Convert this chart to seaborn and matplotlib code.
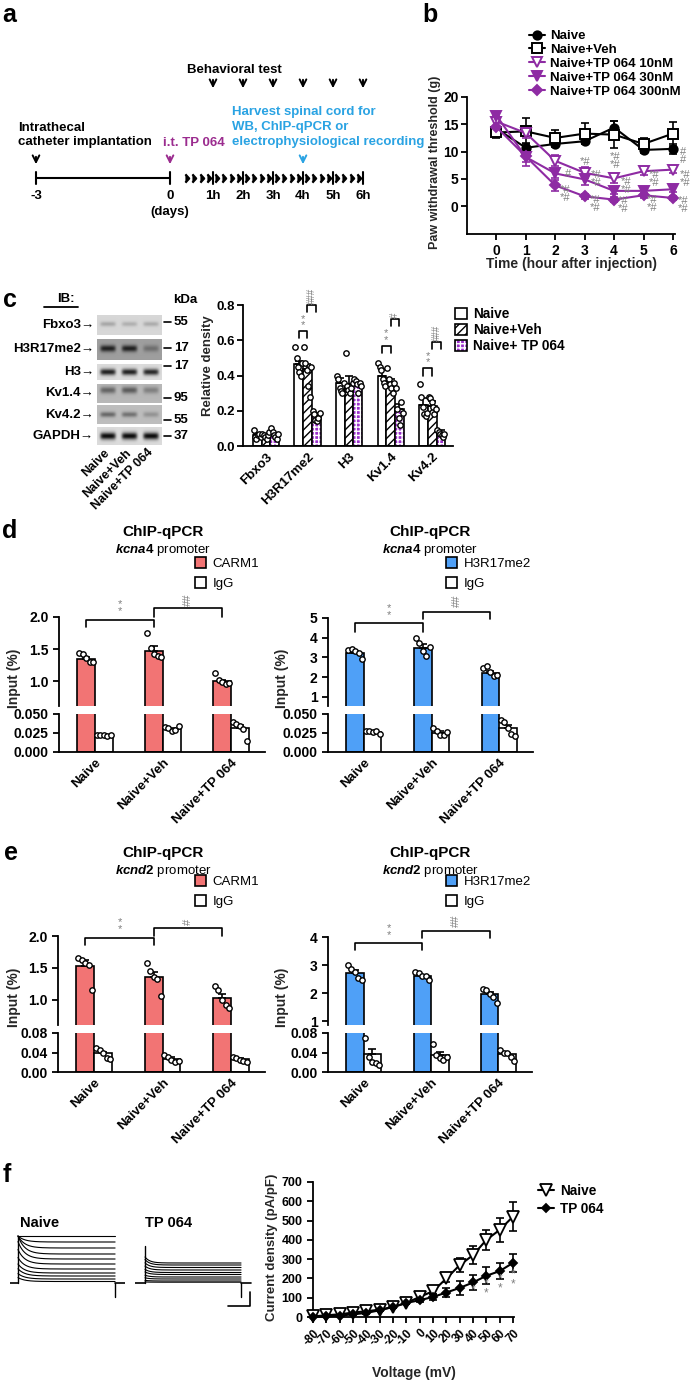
import numpy as np
import pandas as pd
import seaborn as sns
import matplotlib
matplotlib.use("Agg")
import matplotlib.pyplot as plt
from matplotlib.path import Path
from matplotlib.patches import Rectangle, Patch
from matplotlib.lines import Line2D

# ======================= DATA =======================
# (a) schematic timeline
day_marks = [-3, 0]
hour_marks = [1, 2, 3, 4, 5, 6]

# (b) paw withdrawal threshold (g)
b_time = [0, 1, 2, 3, 4, 5, 6]
b_naive = [14.2, 10.7, 11.4, 11.9, 14.4, 10.3, 10.5]
b_naive_sem = [1.5, 0.8, 0.6, 0.6, 1.2, 0.6, 0.9]
b_veh = [13.5, 13.7, 12.5, 13.3, 13.1, 11.4, 13.3]
b_veh_sem = [1.0, 2.4, 1.4, 2.0, 2.5, 1.0, 2.2]
b_10nm = [15.5, 13.4, 8.3, 6.1, 5.1, 6.4, 6.7]
b_10nm_sem = [1.0, 1.0, 1.0, 1.0, 0.8, 0.6, 0.6]
b_30nm = [16.6, 9.0, 6.0, 4.9, 2.8, 2.8, 3.1]
b_30nm_sem = [0.6, 1.0, 0.8, 1.0, 0.5, 0.5, 0.5]
b_300nm = [14.5, 9.1, 3.8, 1.8, 1.2, 2.0, 1.5]
b_300nm_sem = [1.6, 1.8, 1.0, 0.5, 0.4, 0.5, 0.4]
b_labels = ["Naive", "Naive+Veh", "Naive+TP 064 10nM", "Naive+TP 064 30nM", "Naive+TP 064 300nM"]

# (c) western blot band darkness (0..1) per lane
blot_rows = ["Fbxo3", "H3R17me2", "H3", "Kv1.4", "Kv4.2", "GAPDH"]
blot_kda = ["55", "17", "17", "95", "55", "37"]
blot_bands = [[0.22, 0.18, 0.20], [0.80, 0.80, 0.30], [0.85, 0.85, 0.82],
              [0.45, 0.50, 0.30], [0.45, 0.40, 0.22], [0.95, 0.95, 0.95]]
blot_bg = [0.84, 0.62, 0.86, 0.72, 0.74, 0.86]
blot_lanes = ["Naive", "Naive+Veh", "Naive+TP 064"]

# (c) relative density
c_proteins = ["Fbxo3", "H3R17me2", "H3", "Kv1.4", "Kv4.2"]
c_groups = ["Naive", "Naive+Veh", "Naive+ TP 064"]
c_naive = [0.06, 0.465, 0.355, 0.40, 0.23]
c_veh = [0.06, 0.435, 0.35, 0.36, 0.225]
c_tp = [0.065, 0.17, 0.345, 0.21, 0.075]
c_naive_sem = [0.01, 0.02, 0.03, 0.035, 0.04]
c_veh_sem = [0.01, 0.03, 0.045, 0.02, 0.03]
c_tp_sem = [0.01, 0.02, 0.02, 0.03, 0.015]
c_naive_pts = [[0.09, 0.05, 0.04, 0.06, 0.07, 0.05], [0.56, 0.50, 0.45, 0.42, 0.40, 0.47],
               [0.40, 0.38, 0.33, 0.31, 0.30, 0.36], [0.47, 0.45, 0.43, 0.38, 0.36, 0.34],
               [0.35, 0.28, 0.22, 0.18, 0.17, 0.19]]
c_veh_pts = [[0.07, 0.06, 0.05, 0.04, 0.06, 0.08], [0.56, 0.47, 0.43, 0.34, 0.28, 0.45],
             [0.53, 0.34, 0.32, 0.30, 0.33, 0.36], [0.44, 0.38, 0.35, 0.33, 0.30, 0.36],
             [0.28, 0.27, 0.25, 0.22, 0.18, 0.21]]
c_tp_pts = [[0.10, 0.08, 0.06, 0.05, 0.04, 0.07], [0.20, 0.18, 0.15, 0.14, 0.16, 0.19],
            [0.38, 0.37, 0.35, 0.30, 0.36, 0.34], [0.33, 0.21, 0.16, 0.12, 0.25, 0.19],
            [0.09, 0.08, 0.07, 0.06, 0.05, 0.07]]

# (d, e) ChIP-qPCR input (%)
chip_groups = ["Naive", "Naive+Veh", "Naive+TP 064"]
d_carm1 = [1.35, 1.48, 1.00]
d_carm1_sem = [0.03, 0.07, 0.03]
d_carm1_pts = [[1.44, 1.42, 1.36, 1.30, 1.31], [1.75, 1.52, 1.42, 1.40, 1.38], [1.13, 1.02, 0.99, 0.96, 0.97]]
d_igg1 = [0.022, 0.030, 0.031]
d_igg1_sem = [0.001, 0.002, 0.004]
d_igg1_pts = [[0.022, 0.023, 0.022, 0.021, 0.022], [0.033, 0.031, 0.028, 0.029, 0.034], [0.040, 0.037, 0.034, 0.030, 0.015]]
d_h3 = [3.22, 3.48, 2.22]
d_h3_sem = [0.10, 0.20, 0.10]
d_h3_pts = [[3.35, 3.40, 3.30, 3.20, 2.90], [4.00, 3.75, 3.30, 3.05, 3.55], [2.45, 2.55, 2.25, 2.05, 2.10]]
d_igg2 = [0.026, 0.025, 0.032]
d_igg2_sem = [0.001, 0.002, 0.004]
d_igg2_pts = [[0.028, 0.027, 0.026, 0.028, 0.024], [0.031, 0.027, 0.022, 0.022, 0.026], [0.042, 0.039, 0.031, 0.024, 0.021]]

e_carm1 = [1.53, 1.35, 1.03]
e_carm1_sem = [0.09, 0.08, 0.06]
e_carm1_pts = [[1.65, 1.62, 1.58, 1.55, 1.15], [1.57, 1.45, 1.35, 1.32, 1.05], [1.21, 1.15, 1.00, 0.92, 0.86]]
e_igg1 = [0.038, 0.027, 0.026]
e_igg1_sem = [0.004, 0.003, 0.002]
e_igg1_pts = [[0.050, 0.046, 0.040, 0.028, 0.027], [0.035, 0.031, 0.025, 0.020, 0.022], [0.030, 0.028, 0.025, 0.022, 0.021]]
e_h3 = [2.72, 2.62, 1.95]
e_h3_sem = [0.12, 0.04, 0.08]
e_h3_pts = [[3.00, 2.85, 2.75, 2.55, 2.45], [2.75, 2.70, 2.62, 2.60, 2.48], [2.15, 2.10, 1.95, 1.85, 1.65]]
e_igg2 = [0.036, 0.034, 0.036]
e_igg2_sem = [0.012, 0.007, 0.004]
e_igg2_pts = [[0.070, 0.030, 0.020, 0.018, 0.015], [0.058, 0.035, 0.028, 0.025, 0.030], [0.045, 0.040, 0.038, 0.030, 0.022]]

# (f) traces (steady amplitudes, arbitrary units) and I-V curve
naive_sweeps = [4.7, 4.1, 3.5, 2.9, 2.4, 1.9, 1.4, 1.0, 0.7, 0.4, 0.15]
tp_sweeps = [2.0, 1.8, 1.55, 1.3, 1.05, 0.85, 0.6, 0.4, 0.2, 0.08]
f_volt = [-80, -70, -60, -50, -40, -30, -20, -10, 0, 10, 20, 30, 40, 50, 60, 70]
f_naive = [3, 9, 14, 23, 30, 38, 52, 73, 104, 134, 200, 269, 321, 400, 452, 521]
f_naive_sem = [2, 2, 3, 3, 4, 4, 5, 6, 10, 15, 20, 35, 45, 53, 62, 73]
f_tp = [0, 3, 7, 14, 21, 35, 52, 73, 87, 104, 127, 151, 179, 214, 238, 281]
f_tp_sem = [2, 2, 3, 3, 4, 4, 5, 6, 8, 15, 25, 35, 37, 45, 40, 48]

# ======================= STYLE =======================
sns.set_theme(style="ticks")
plt.rcParams["font.family"] = ["Liberation Sans", "DejaVu Sans"]
plt.rcParams.update({
    "font.weight": "bold", "axes.labelweight": "bold",
    "axes.linewidth": 1.3, "axes.edgecolor": "black", "text.color": "black",
    "xtick.color": "black", "ytick.color": "black",
    "xtick.major.width": 1.3, "ytick.major.width": 1.3,
    "xtick.major.size": 4, "ytick.major.size": 4,
    "xtick.labelsize": 10, "ytick.labelsize": 10,
    "hatch.linewidth": 1.0,
    "mathtext.fontset": "custom", "mathtext.it": "Liberation Sans:italic",
    "mathtext.rm": "Liberation Sans",
})

W, H = 697, 1381
fig = plt.figure(figsize=(W / 100, H / 100), dpi=100)
PURPLE = "#8E2BA3"
GRAY = "#808080"
RED = "#F27474"
BLUE = "#4FA0F7"


def px_ax(l, t, r, b):
    return fig.add_axes([l / W, 1 - b / H, (r - l) / W, (b - t) / H])


def ftxt(x, y, s, **kw):
    fig.text(x / W, 1 - y / H, s, **kw)


def set_ylab(ax, text, x_px, y_px, size=10):
    ax.set_ylabel(text, fontsize=size, fontweight="bold")
    pos = ax.get_position()
    ax.yaxis.set_label_coords((x_px / W - pos.x0) / pos.width, ((1 - y_px / H) - pos.y0) / pos.height)


def bracket(ax, x1, x2, y, drop, text, ty, size=8, rot=0):
    ax.plot([x1, x1, x2, x2], [y - drop, y, y, y - drop], color="black", lw=1.2, clip_on=False)
    ax.text((x1 + x2) / 2, ty, text, ha="center", va="bottom", color=GRAY, fontsize=size,
            linespacing=0.6, rotation=rot, clip_on=False, fontweight="normal")


def draw_bars(ax, cats, groups, means, sems, pts, width, colors, hatches=None, hatch_ec=None):
    rows = []
    for g, m in zip(groups, means):
        for c, v in zip(cats, m):
            rows.append((c, g, v))
    df = pd.DataFrame(rows, columns=["cat", "grp", "val"])
    sns.barplot(data=df, x="cat", y="val", hue="grp", order=cats, hue_order=groups,
                palette=colors, width=width, saturation=1, errorbar=None, legend=False,
                edgecolor="black", linewidth=1.2, ax=ax)
    n = len(groups)
    bw = width / n
    if hatches:
        for p in list(ax.patches):
            cx = p.get_x() + p.get_width() / 2
            j = int(round(cx))
            i = int(round((cx - j + width / 2) / bw - 0.5))
            if hatches[i]:
                p.set_hatch(hatches[i])
                p.set_edgecolor(hatch_ec[i])
                if hatch_ec[i] != "black":
                    p.set_linewidth(0)
                    ax.add_patch(Rectangle(p.get_xy(), p.get_width(), p.get_height(), fill=False,
                                           ec="black", lw=1.2, zorder=p.get_zorder() + 0.1))
    for i in range(n):
        xs = np.arange(len(cats)) - width / 2 + (i + 0.5) * bw
        ax.errorbar(xs, means[i], yerr=[np.zeros(len(cats)), sems[i]], fmt="none", ecolor="black",
                    elinewidth=1.2, capsize=3, capthick=1.2, zorder=3)
        for j in range(len(cats)):
            p = np.asarray(pts[i][j])
            k = len(p)
            offs = (np.arange(k) - (k - 1) / 2) / max(k - 1, 1) * bw * 0.8
            ax.scatter(xs[j] + offs, p, s=15, facecolor="white", edgecolor="black",
                       linewidth=1.0, zorder=4)
    ax.set_xlabel("")
    ax.set_ylabel("")


# ======================= PANEL LABELS =======================
for lab, (x, y) in {"a": (9, 15), "b": (430, 15), "c": (10, 300), "d": (10, 531),
                    "e": (11, 853), "f": (7, 1175)}.items():
    ftxt(x, y, lab, fontsize=18, fontweight="bold", ha="center", va="center")

# ======================= (a) =======================
ax_a = px_ax(0, 0, 395, 230)
ax_a.set_xlim(0, 395)
ax_a.set_ylim(230, 0)
ax_a.axis("off")


def day_x(d):
    return 170 + d * 44.67


def hour_x(h):
    return 183 + h * 30


TY = 178
ax_a.plot([day_x(day_marks[0]), day_x(day_marks[-1])], [TY, TY], color="black", lw=1.5)
for d in day_marks:
    ax_a.plot([day_x(d)] * 2, [TY - 6, TY + 6], color="black", lw=1.5)
    ax_a.text(day_x(d), 196, str(d), ha="center", va="center", fontsize=9.5)
ax_a.text(day_x(0), 212, "(days)", ha="center", va="center", fontsize=9.5)
chev = Path([(-0.5, 1), (0.4, 0), (-0.5, -1)], [Path.MOVETO, Path.LINETO, Path.LINETO])
for h in hour_marks:
    cx = [hour_x(h - 1) + 4 + k * 7.3 for k in range(4)]
    ax_a.plot(cx, [TY] * 4, ls="none", marker=chev, ms=6, mew=1.6, color="black")
    ax_a.plot([hour_x(h)] * 2, [TY - 6, TY + 6], color="black", lw=1.5)
    ax_a.text(hour_x(h), 196, f"{h}h", ha="center", va="center", fontsize=9.5)
    ax_a.annotate("", xy=(hour_x(h), 91), xytext=(hour_x(h), 77),
                  arrowprops=dict(arrowstyle="->", lw=1.4, color="black"))
ax_a.text(187, 70, "Behavioral test", ha="left", va="center", fontsize=9.5)
ax_a.text(18, 135, "Intrathecal\ncatheter implantation", ha="left", va="center", fontsize=9.5,
          linespacing=1.3)
ax_a.annotate("", xy=(day_x(-3), 167), xytext=(day_x(-3), 154),
              arrowprops=dict(arrowstyle="->", lw=1.4, color="black"))
ax_a.text(163, 143, "i.t. TP 064", ha="left", va="center", fontsize=9.5, color="#9B2C8F")
ax_a.annotate("", xy=(day_x(0), 167), xytext=(day_x(0), 154),
              arrowprops=dict(arrowstyle="->", lw=1.4, color="#9B2C8F"))
ax_a.text(232, 127, "Harvest spinal cord for\nWB, ChIP-qPCR or\nelectrophysiological recording",
          ha="left", va="center", fontsize=9.5, color="#2AA3E3", linespacing=1.3)
ax_a.annotate("", xy=(hour_x(4), 167), xytext=(hour_x(4), 154),
              arrowprops=dict(arrowstyle="->", lw=1.4, color="#2AA3E3"))

# ======================= (b) =======================
ax_b = px_ax(467, 97, 675, 234)
series_b = [
    (b_naive, b_naive_sem, "black", "o", "black", 6),
    (b_veh, b_veh_sem, "black", "s", "white", 7),
    (b_10nm, b_10nm_sem, PURPLE, "v", "white", 7),
    (b_30nm, b_30nm_sem, PURPLE, "v", PURPLE, 7),
    (b_300nm, b_300nm_sem, PURPLE, "D", PURPLE, 5),
]
handles_b = []
for (vals, sems, col, mk, mfc, ms) in series_b:
    ax_b.errorbar(b_time, vals, yerr=sems, fmt="none", ecolor=col, elinewidth=1.2, capsize=3,
                  capthick=1.2, zorder=2, clip_on=False)
    sns.lineplot(x=b_time, y=vals, color=col, marker=mk, markersize=ms, markerfacecolor=mfc,
                 markeredgecolor=col, markeredgewidth=1.4, linewidth=1.5, ax=ax_b, zorder=3,
                 clip_on=False, legend=False)
    handles_b.append(Line2D([], [], color=col, marker=mk, ms=ms, mfc=mfc, mec=col, mew=1.4, lw=1.5))
ax_b.set_xlim(-1, 6.07)
ax_b.set_ylim(-5.1, 20)
ax_b.set_xticks(b_time)
ax_b.set_yticks([0, 5, 10, 15, 20])
ax_b.tick_params(axis="y", pad=2)
ax_b.spines[["top", "right"]].set_visible(False)
ax_b.set_xlabel("Time (hour after injection)", fontsize=10)
ax_b.xaxis.set_label_coords(0.5, -0.17)
set_ylab(ax_b, "Paw withdrawal threshold (g)", 441, 162, size=9)
b_annot = [(2.35, 0.6, "*#\n*#"), (2.45, 4.9, "#"), (3.0, 7.2, "*#"), (3.4, 3.3, "*#\n*#"),
           (3.35, -1.3, "*#\n*#"), (4.05, 6.6, "*#\n*#"), (4.4, 2.0, "*#\n*#"), (4.3, -1.5, "*#\n*#"),
           (5.35, 3.4, "*#\n*#"), (5.3, -1.2, "*#\n*#"), (6.35, 7.6, "#\n#"), (6.4, 3.4, "*#\n*#"),
           (6.35, -1.4, "*#\n*#")]
for (tx, ty, s) in b_annot:
    ax_b.text(tx, ty, s, ha="center", va="bottom", color=GRAY, fontsize=8, linespacing=0.75,
              fontweight="normal", clip_on=False)
fig.legend(handles_b, b_labels, loc="upper left", bbox_to_anchor=(529 / W, 1 - 30 / H),
           frameon=False, fontsize=9.5, handlelength=1.2, labelspacing=0.12, handletextpad=0.4,
           borderpad=0, borderaxespad=0)

# ======================= (c) blot =======================
ax_wb = px_ax(0, 280, 240, 500)
ax_wb.set_xlim(0, 240)
ax_wb.set_ylim(500, 280)
ax_wb.axis("off")
row_box = [(315, 335), (339, 360), (364, 380), (384, 403), (405, 424), (427, 445)]
band_pos = [0.45, 0.45, 0.5, 0.32, 0.5, 0.5]
band_thk = [0.12, 0.16, 0.2, 0.18, 0.14, 0.2]
xx = np.linspace(0, 1, 130)
yy = np.linspace(0, 1, 40)
kda_y = [322, 348, 366, 398, 420, 436]
for r, name in enumerate(blot_rows):
    img = np.full((40, 130), blot_bg[r])
    for li, dark in enumerate(blot_bands[r]):
        c = (li + 0.5) / 3
        lp = np.exp(-((xx - c) / 0.12) ** 6)
        vp = np.exp(-((yy - band_pos[r]) / band_thk[r]) ** 2)
        img = img - dark * blot_bg[r] * np.outer(vp, lp)
    img = np.clip(img, 0, 1)
    t, b = row_box[r]
    ax_wb.imshow(img, cmap="gray", vmin=0, vmax=1, extent=(97, 162, b, t), aspect="auto",
                 interpolation="bilinear")
    ax_wb.text(94, (t + b) / 2, name + "\u2192", ha="right", va="center", fontsize=9.5)
    ax_wb.plot([164, 171], [kda_y[r], kda_y[r]], color="black", lw=1.2)
    ax_wb.text(174, kda_y[r], blot_kda[r], ha="left", va="center", fontsize=9.5)
ax_wb.text(185, 300, "kDa", ha="center", va="center", fontsize=9.5)
ax_wb.text(66, 299, "IB:", ha="center", va="center", fontsize=9.5)
ax_wb.plot([44, 78], [307, 307], color="black", lw=1.3)
for li, lane in enumerate(blot_lanes):
    ax_wb.text(108 + li * 21.5, 451, lane, rotation=45, ha="right", va="center",
               rotation_mode="anchor", fontsize=9)

# ======================= (c) bars =======================
ax_c = px_ax(243, 305, 453, 446)
draw_bars(ax_c, c_proteins, c_groups, [c_naive, c_veh, c_tp], [c_naive_sem, c_veh_sem, c_tp_sem],
          [c_naive_pts, c_veh_pts, c_tp_pts], 0.63, ["white", "white", "#9A2FCB"],
          hatches=[None, "////", "++++"], hatch_ec=["black", "black", "white"])
ax_c.set_xlim(-0.55, 4.5)
ax_c.set_ylim(0, 0.8)
ax_c.set_yticks([0, 0.2, 0.4, 0.6, 0.8])
ax_c.set_yticklabels(["0.0", "0.2", "0.4", "0.6", "0.8"])
ax_c.tick_params(axis="y", labelsize=9.5, pad=2)
ax_c.spines[["top", "right"]].set_visible(False)
ax_c.tick_params(axis="x", length=0)
ax_c.set_xticks(range(len(c_proteins)))
ax_c.set_xticklabels(c_proteins, rotation=45, ha="right", rotation_mode="anchor", fontsize=9.5)
set_ylab(ax_c, "Relative density", 214, 366, size=9.5)
bw = 0.21
bracket(ax_c, 1 - bw, 1, 0.65, 0.04, "*\n*", 0.655)
bracket(ax_c, 1, 1 + bw, 0.80, 0.04, "###", 0.805, size=7, rot=90)
bracket(ax_c, 3 - bw, 3, 0.57, 0.04, "*\n*", 0.575)
bracket(ax_c, 3, 3 + bw, 0.72, 0.04, "#", 0.725, size=7, rot=90)
bracket(ax_c, 4 - bw, 4, 0.44, 0.04, "*\n*", 0.445)
bracket(ax_c, 4, 4 + bw, 0.59, 0.04, "###", 0.595, size=7, rot=90)
h_c = [Patch(facecolor="white", edgecolor="black", lw=1.2),
       Patch(facecolor="white", edgecolor="black", hatch="////", lw=1.2),
       (Patch(facecolor="#9A2FCB", edgecolor="white", hatch="++++", lw=0),
        Patch(facecolor="none", edgecolor="black", lw=1.2))]
fig.legend(h_c, c_groups, loc="upper left", bbox_to_anchor=(455 / W, 1 - 307 / H), frameon=False,
           fontsize=9.8, handlelength=0.9, handleheight=0.9, labelspacing=0.15, handletextpad=0.4,
           borderpad=0, borderaxespad=0)


# ======================= (d, e) ChIP =======================
def chip(l, r, t1, b1, t2, b2, name, color, m, s, p, im, isem, ip, ylim1, tick1, lab1,
         ylim2, tick2, lab2):
    axs = []
    for (t, b) in [(t1, b1), (t2, b2)]:
        ax = px_ax(l, t, r, b)
        draw_bars(ax, chip_groups, [name, "IgG"], [m, im], [s, isem], [p, ip], 0.52,
                  [color, "white"])
        ax.set_xlim(-0.53, 2.5)
        ax.spines[["top", "right"]].set_visible(False)
        axs.append(ax)
    at, ab = axs
    at.set_ylim(*ylim1)
    at.set_yticks(tick1)
    at.set_yticklabels(lab1)
    at.spines["bottom"].set_visible(False)
    at.tick_params(axis="x", bottom=False, labelbottom=False)
    ab.set_ylim(*ylim2)
    ab.set_yticks(tick2)
    ab.set_yticklabels(lab2)
    ab.tick_params(axis="x", length=0)
    ab.set_xticks(range(3))
    ab.set_xticklabels(chip_groups, rotation=45, ha="right", rotation_mode="anchor", fontsize=9.5)
    return at, ab


def chip_head(cx, ty, gene, lx, ly, name, color):
    ftxt(cx, ty, "ChIP-qPCR", ha="center", va="center", fontsize=11, fontweight="bold")
    ftxt(cx, ty + 18, r"$\mathit{" + gene + r"}$ promoter", ha="center", va="center",
         fontsize=9.5, fontweight="normal")
    hh = [Patch(facecolor=color, edgecolor="black", lw=1.2),
          Patch(facecolor="white", edgecolor="black", lw=1.2)]
    fig.legend(hh, [name, "IgG"], loc="upper left", bbox_to_anchor=(lx / W, 1 - ly / H),
               frameon=False, handlelength=0.85, handleheight=0.85, labelspacing=0.55,
               handletextpad=0.5, borderpad=0, borderaxespad=0,
               prop={"size": 9.5, "weight": "normal"})


# d left
at, ab = chip(59, 265, 617, 706, 714, 752, "CARM1", RED, d_carm1, d_carm1_sem, d_carm1_pts,
              d_igg1, d_igg1_sem, d_igg1_pts, (0.62, 2.0), [1.0, 1.5, 2.0], ["1.0", "1.5", "2.0"],
              (0, 0.05), [0, 0.025, 0.05], ["0.000", "0.025", "0.050"])
set_ylab(at, "Input (%)", 21, 678)
bracket(at, -0.13, 0.87, 1.95, 0.1, "*\n*", 2.02)
bracket(at, 0.87, 1.87, 2.14, 0.14, "##", 2.17, rot=90)
chip_head(163, 532, "kcna4", 195, 557, "CARM1", RED)

# d right
at, ab = chip(328, 533, 618, 706, 714, 752, "H3R17me2", BLUE, d_h3, d_h3_sem, d_h3_pts,
              d_igg2, d_igg2_sem, d_igg2_pts, (0.53, 5.0), [1, 2, 3, 4, 5], ["1", "2", "3", "4", "5"],
              (0, 0.05), [0, 0.025, 0.05], ["0.000", "0.025", "0.050"])
set_ylab(at, "Input (%)", 289, 678)
bracket(at, -0.13, 0.87, 4.75, 0.45, "*\n*", 4.9)
bracket(at, 0.87, 1.87, 5.3, 0.35, "##", 5.55, rot=90)
chip_head(430, 532, "kcna4", 446, 557, "H3R17me2", BLUE)

# e left
at, ab = chip(58, 265, 936, 1025, 1033, 1072, "CARM1", RED, e_carm1, e_carm1_sem, e_carm1_pts,
              e_igg1, e_igg1_sem, e_igg1_pts, (0.6, 2.0), [1.0, 1.5, 2.0], ["1.0", "1.5", "2.0"],
              (0, 0.08), [0, 0.04, 0.08], ["0.00", "0.04", "0.08"])
set_ylab(at, "Input (%)", 21, 997)
bracket(at, -0.13, 0.87, 1.97, 0.11, "*\n*", 2.03)
bracket(at, 0.87, 1.87, 2.125, 0.125, "#", 2.17, rot=90)
chip_head(163, 853, "kcnd2", 195, 875, "CARM1", RED)

# e right
at, ab = chip(328, 532, 937, 1025, 1033, 1072, "H3R17me2", BLUE, e_h3, e_h3_sem, e_h3_pts,
              e_igg2, e_igg2_sem, e_igg2_pts, (0.86, 4.0), [1, 2, 3, 4], ["1", "2", "3", "4"],
              (0, 0.08), [0, 0.04, 0.08], ["0.00", "0.04", "0.08"])
set_ylab(at, "Input (%)", 289, 997)
bracket(at, -0.13, 0.87, 3.79, 0.24, "*\n*", 3.9)
bracket(at, 0.87, 1.87, 4.2, 0.23, "##", 4.35, rot=90)
chip_head(430, 853, "kcnd2", 446, 875, "H3R17me2", BLUE)

# ======================= (f) traces =======================
tt = np.linspace(0, 100, 300)
ax_n = px_ax(10, 1225, 125, 1300)
ax_n.set_xlim(-8.2, 110.2)
ax_n.set_ylim(-1.7, 5.8)
ax_n.axis("off")
amax = max(naive_sweeps)
for a in naive_sweeps:
    peak = min(amax, a * 1.6 + 0.3)
    ax_n.plot(tt, a + (peak - a) * np.exp(-tt / 7), color="black", lw=0.8)
ax_n.plot([0, 0], [0, amax], color="black", lw=1)
ax_n.plot([-8.2, 0], [0, 0], color="black", lw=1.2)
ax_n.plot([100, 110.2], [0, 0], color="black", lw=1.2)
ax_n.plot([100, 100], [0, -1.4], color="black", lw=1)
ftxt(20, 1223, "Naive", ha="left", va="center", fontsize=10.5)

ax_t = px_ax(135, 1225, 254, 1310)
ax_t.set_xlim(-10.4, 113.5)
ax_t.set_ylim(-2.7, 5.8)
ax_t.axis("off")
for a in tp_sweeps:
    ax_t.plot(tt, a + 0.3 * a * np.exp(-tt / 5), color="black", lw=0.8)
ax_t.plot([0, 0], [0, 3.7], color="black", lw=1)
ax_t.plot([-10.4, 0], [0, 0], color="black", lw=1.2)
ax_t.plot([100, 110], [0, 0], color="black", lw=1.2)
ax_t.plot([100, 100], [0, -1.4], color="black", lw=1)
ax_t.plot([86.5, 109.4, 109.4], [-2.3, -2.3, -0.9], color="black", lw=1.2, clip_on=False)
ftxt(145, 1223, "TP 064", ha="left", va="center", fontsize=10.5)

# ======================= (f) I-V =======================
ax_f = px_ax(313, 1182, 514, 1317)
hf = []
for (vals, sems, mk, mfc, ms) in [(f_naive, f_naive_sem, "v", "white", 8),
                                  (f_tp, f_tp_sem, "D", "black", 4.5)]:
    ax_f.errorbar(f_volt, vals, yerr=sems, fmt="none", ecolor="black", elinewidth=1.2, capsize=3,
                  capthick=1.2, zorder=2, clip_on=False)
    sns.lineplot(x=f_volt, y=vals, color="black", marker=mk, markersize=ms, markerfacecolor=mfc,
                 markeredgecolor="black", markeredgewidth=1.3, linewidth=1.5, ax=ax_f, zorder=3,
                 clip_on=False, legend=False)
    hf.append(Line2D([], [], color="black", marker=mk, ms=ms, mfc=mfc, mec="black", mew=1.3, lw=1.5))
ax_f.set_xlim(-80, 70.7)
ax_f.set_ylim(0, 700)
ax_f.set_yticks(range(0, 701, 100))
ax_f.set_xticks(f_volt)
ax_f.set_xticklabels([str(v) for v in f_volt], rotation=45, ha="right", rotation_mode="anchor",
                     fontsize=8.5)
ax_f.tick_params(axis="y", labelsize=9)
ax_f.spines[["top", "right"]].set_visible(False)
ax_f.set_xlabel("Voltage (mV)", fontsize=10)
ax_f.xaxis.set_label_coords(0.5, -0.36)
set_ylab(ax_f, "Current density (pA/pF)", 278, 1247, size=9.5)
for (v, y, s) in [(40, 105, "*"), (50, 90, "*\n*"), (60, 115, "*\n*"), (70, 140, "*\n*")]:
    ax_f.text(v, y, s, ha="center", va="bottom", color=GRAY, fontsize=8.5, linespacing=0.7,
              fontweight="normal", clip_on=False)
fig.legend(hf, ["Naive", "TP 064"], loc="upper left", bbox_to_anchor=(538 / W, 1 - 1184 / H),
           frameon=False, fontsize=9.8, handlelength=1.2, labelspacing=0.3, handletextpad=0.4,
           borderpad=0, borderaxespad=0)

fig.savefig("out.png", dpi=100)
